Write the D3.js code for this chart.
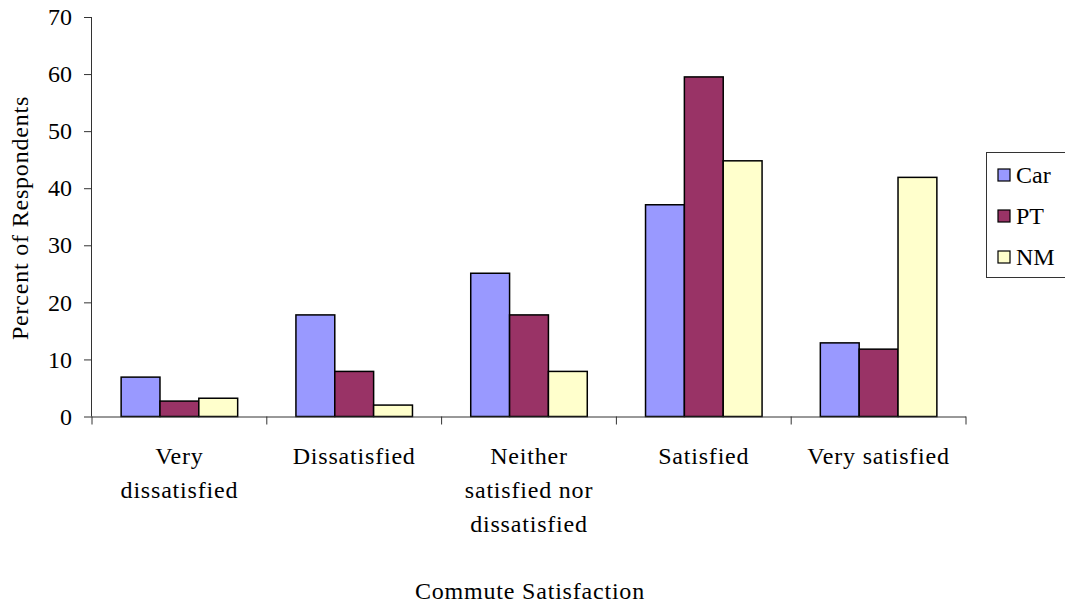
<!DOCTYPE html>
<html>
<head>
<meta charset="utf-8">
<script src="https://cdn.jsdelivr.net/npm/d3@7"></script>
<style>
  html, body { margin: 0; padding: 0; background: #fff; }
  #chart, #chart text { font-family: "Liberation Serif", "DejaVu Serif", "Noto Serif", "FreeSerif", Times, serif !important; }
</style>
</head>
<body>
<svg id="chart" width="1065" height="604"></svg>
<script>
// Commute satisfaction by travel mode (percent of respondents)
const categories = ["Very dissatisfied", "Dissatisfied", "Neither satisfied nor dissatisfied", "Satisfied", "Very satisfied"];
const categoryLines = [["Very", "dissatisfied"], ["Dissatisfied"], ["Neither", "satisfied nor", "dissatisfied"], ["Satisfied"], ["Very satisfied"]];
const seriesNames = ["Car", "PT", "NM"];
const carValues = [6.9, 17.8, 25.1, 37.1, 12.9];
const ptValues = [2.7, 7.9, 17.8, 59.5, 11.8];
const nmValues = [3.2, 2.0, 7.9, 44.8, 41.9];
const yTicks = [0, 10, 20, 30, 40, 50, 60, 70];
const colors = ["#9999FF", "#993366", "#FFFFCC"];

const seriesValues = [carValues, ptValues, nmValues];

const svg = d3.select("#chart");
const plotLeft = 92, plotRight = 966, plotTop = 17, plotBottom = 416.5;

const x = d3.scaleBand().domain(categories).range([plotLeft, plotRight]).paddingInner(0).paddingOuter(0);
const inner = d3.scaleBand().domain(seriesNames).range([0, x.bandwidth()]).paddingInner(0).paddingOuter(0.75);
const y = d3.scaleLinear().domain([0, 70]).range([plotBottom, plotTop]);

// bars
const groups = svg.append("g").selectAll("g")
  .data(categories)
  .join("g")
  .attr("transform", d => `translate(${x(d)},0)`);

groups.selectAll("rect")
  .data((d, i) => seriesNames.map((s, j) => ({ s, v: seriesValues[j][i], j })))
  .join("rect")
  .attr("x", d => inner(d.s))
  .attr("width", inner.bandwidth())
  .attr("y", d => y(d.v))
  .attr("height", d => y(0) - y(d.v))
  .attr("fill", d => colors[d.j])
  .attr("stroke", "#000")
  .attr("stroke-width", 1.5);

// y axis
const yAxis = svg.append("g")
  .attr("transform", `translate(${plotLeft},0)`)
  .call(d3.axisLeft(y).tickValues(yTicks).tickSize(8).tickPadding(12).tickFormat(d3.format("d")));
yAxis.attr("font-size", 24);
yAxis.select(".domain").attr("stroke", "#333").attr("d", `M-0.5,${plotTop}V${plotBottom}`);
yAxis.selectAll(".tick line").attr("stroke", "#333");
yAxis.selectAll("text").attr("fill", "#000");

// x axis
const xAxis = svg.append("g")
  .attr("transform", `translate(0,${plotBottom})`)
  .call(d3.axisBottom(x).tickSize(0).tickFormat(""));
xAxis.select(".domain").attr("stroke", "#333").attr("d", `M${plotLeft},0.5H${plotRight}`);
xAxis.selectAll(".tick").remove();

// category boundary ticks
const boundaries = categories.map(c => x(c)).concat([plotRight]);
xAxis.selectAll("line.bound")
  .data(boundaries)
  .join("line")
  .attr("class", "bound")
  .attr("x1", d => d).attr("x2", d => d)
  .attr("y1", 0).attr("y2", 8)
  .attr("stroke", "#333");

// category labels
const labels = svg.append("g").selectAll("text")
  .data(categories)
  .join("text")
  .attr("x", d => x(d) + x.bandwidth() / 2)
  .attr("y", 464)
  .attr("text-anchor", "middle")
  .attr("font-size", 24)
  .attr("letter-spacing", 0.8)
  .attr("fill", "#000");
labels.each(function (d, i) {
  d3.select(this).selectAll("tspan")
    .data(categoryLines[i])
    .join("tspan")
    .attr("x", x(d) + x.bandwidth() / 2)
    .attr("dy", (t, k) => k === 0 ? 0 : 34)
    .text(t => t);
});

// axis titles
svg.append("text")
  .attr("transform", `translate(28,218) rotate(-90)`)
  .attr("text-anchor", "middle")
  .attr("font-size", 24)
  .attr("letter-spacing", 0.8)
  .text("Percent of Respondents");

svg.append("text")
  .attr("x", 530)
  .attr("y", 599)
  .attr("text-anchor", "middle")
  .attr("font-size", 24)
  .attr("letter-spacing", 0.8)
  .text("Commute Satisfaction");

// legend
const legend = svg.append("g");
legend.append("rect")
  .attr("x", 986.5).attr("y", 152.5)
  .attr("width", 90).attr("height", 125)
  .attr("fill", "#fff").attr("stroke", "#333");
const item = legend.selectAll("g.item")
  .data(seriesNames)
  .join("g")
  .attr("class", "item")
  .attr("transform", (d, i) => `translate(998,${175 + i * 41})`);
item.append("rect")
  .attr("x", 0).attr("y", -6)
  .attr("width", 12).attr("height", 12)
  .attr("fill", (d, i) => colors[i])
  .attr("stroke", "#000").attr("stroke-width", 1.2);
item.append("text")
  .attr("x", 18).attr("y", 8)
  .attr("font-size", 24)
  .text(d => d);
</script>
</body>
</html>
